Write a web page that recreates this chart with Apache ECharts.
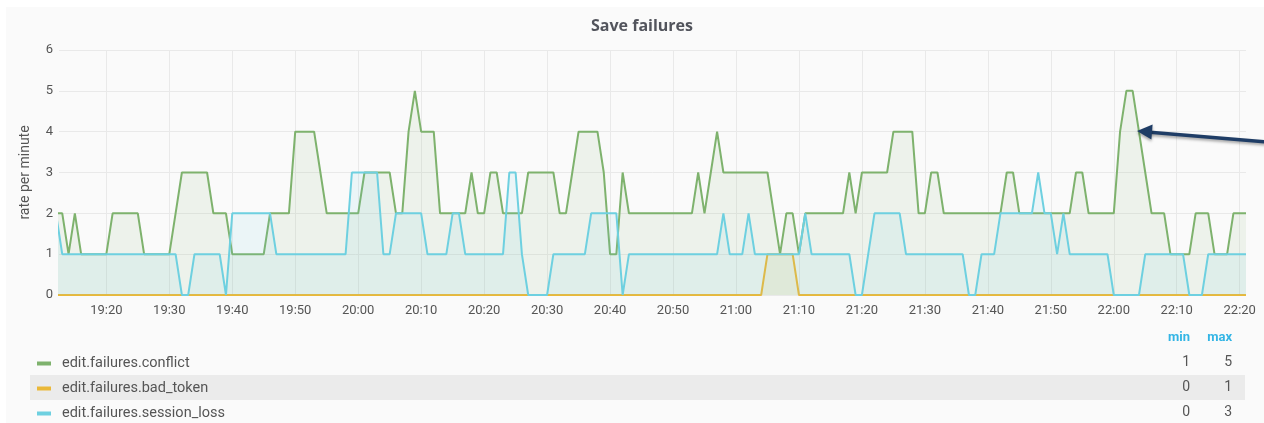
<!DOCTYPE html>
<html><head><meta charset="utf-8">
<script src="https://cdn.jsdelivr.net/npm/echarts@6/dist/echarts.min.js"></script>
<style>html,body{margin:0;padding:0;background:#fff}#c{width:1264px;height:423px}</style>
</head><body><div id="c"></div>
<script>
// ---- data ----
const chartTitle = 'Save failures';
const yAxisName = 'rate per minute';
const seriesNames = ['edit.failures.conflict', 'edit.failures.bad_token', 'edit.failures.session_loss'];
const seriesColors = ['#7eb26d', '#eab839', '#6ed0e0'];
const firstSample = [19, 12];      // first sample (just left of the visible window)
const sampleStepMinutes = 1;
const viewStart = [19, 12, 29];    // visible time window
const viewEnd = [22, 21, 0];
const xTickLabels = ['19:20', '19:30', '19:40', '19:50', '20:00', '20:10', '20:20', '20:30', '20:40',
  '20:50', '21:00', '21:10', '21:20', '21:30', '21:40', '21:50', '22:00', '22:10', '22:20'];
const yMin = 0, yMax = 6, yStep = 1;
const legendHeaders = ['min', 'max'];

const conflict = [
  2,2,1,2,1,1,1,1,1,2,
  2,2,2,2,1,1,1,1,1,2,
  3,3,3,3,3,2,2,2,1,1,
  1,1,1,1,2,2,2,2,4,4,
  4,4,3,2,2,2,2,2,2,3,
  3,3,3,3,2,2,4,5,4,4,
  4,2,2,2,2,2,3,2,2,3,
  3,2,2,2,2,3,3,3,3,3,
  2,2,3,4,4,4,4,3,1,1,
  3,2,2,2,2,2,2,2,2,2,
  2,2,3,2,3,4,3,3,3,3,
  3,3,3,3,2,1,2,2,1,2,
  2,2,2,2,2,2,3,2,3,3,
  3,3,3,4,4,4,4,2,2,3,
  3,2,2,2,2,2,2,2,2,2,
  2,3,3,2,2,2,2,2,2,2,
  2,2,3,3,2,2,2,2,2,4,
  5,5,4,3,2,2,2,1,1,1,
  1,2,2,2,1,1,1,2,2,2
];
const badToken = [
  0,0,0,0,0,0,0,0,0,0,
  0,0,0,0,0,0,0,0,0,0,
  0,0,0,0,0,0,0,0,0,0,
  0,0,0,0,0,0,0,0,0,0,
  0,0,0,0,0,0,0,0,0,0,
  0,0,0,0,0,0,0,0,0,0,
  0,0,0,0,0,0,0,0,0,0,
  0,0,0,0,0,0,0,0,0,0,
  0,0,0,0,0,0,0,0,0,0,
  0,0,0,0,0,0,0,0,0,0,
  0,0,0,0,0,0,0,0,0,0,
  0,0,0,1,1,1,1,1,0,0,
  0,0,0,0,0,0,0,0,0,0,
  0,0,0,0,0,0,0,0,0,0,
  0,0,0,0,0,0,0,0,0,0,
  0,0,0,0,0,0,0,0,0,0,
  0,0,0,0,0,0,0,0,0,0,
  0,0,0,0,0,0,0,0,0,0,
  0,0,0,0,0,0,0,0,0,0
];
const sessionLoss = [
  2,1,1,1,1,1,1,1,1,1,
  1,1,1,1,1,1,1,1,1,1,
  0,0,1,1,1,1,1,0,2,2,
  2,2,2,2,2,1,1,1,1,1,
  1,1,1,1,1,1,1,3,3,3,
  3,3,1,1,2,2,2,2,2,1,
  1,1,1,2,2,1,1,1,1,1,
  1,1,3,3,1,0,0,0,0,1,
  1,1,1,1,1,2,2,2,2,2,
  0,1,1,1,1,1,1,1,1,1,
  1,1,1,1,1,1,2,1,1,1,
  2,1,1,1,1,1,1,1,1,2,
  1,1,1,1,1,1,1,0,0,1,
  2,2,2,2,2,1,1,1,1,1,
  1,1,1,1,1,0,0,1,1,1,
  2,2,2,2,2,2,3,2,2,1,
  2,1,1,1,1,1,1,1,0,0,
  0,0,0,1,1,1,1,1,1,1,
  0,0,0,1,1,1,1,1,1,1
];
const seriesValues = [conflict, badToken, sessionLoss];

// ---- build ----
const base = [2017, 4, 1];
const t = (hm) => new Date(base[0], base[1], base[2], hm[0], hm[1], hm[2] || 0).getTime();
const t0 = t(firstSample);
const times = conflict.map((_, i) => t0 + i * sampleStepMinutes * 60000);
const tickValues = xTickLabels.map((s) => t(s.split(':').map(Number)));
const pad = (n) => (n < 10 ? '0' : '') + n;
const FONT = 'Roboto, "Noto Sans", sans-serif';
const TXT = '#555';

const chart = echarts.init(document.getElementById('c'), null, {renderer: 'canvas'});

const series = seriesNames.map((name, s) => ({
  name: name,
  type: 'line',
  data: seriesValues[s].map((v, i) => [times[i], v]),
  showSymbol: false,
  symbol: 'none',
  clip: true,
  lineStyle: {width: 2, color: seriesColors[s]},
  itemStyle: {color: seriesColors[s]},
  areaStyle: {color: seriesColors[s], opacity: 0.1},
  emphasis: {disabled: true},
  z: 2 + s
}));

// legend table extras (min/max column)
const colMinX = 1190, colMaxX = 1232;
const rowY = [362, 387, 412];
const graphics = [
  {type: 'rect', z: -20, silent: true, shape: {x: 6, y: 7, width: 1270, height: 430}, style: {fill: '#fafafa'}},
  {type: 'rect', z: -10, silent: true, shape: {x: 30, y: 375, width: 1215, height: 25}, style: {fill: '#ebebeb'}},
  {type: 'text', z: 10, style: {text: legendHeaders[0], x: colMinX, y: 338, align: 'right', verticalAlign: 'middle', fill: '#33b5e5', font: 'bold 13px ' + FONT}},
  {type: 'text', z: 10, style: {text: legendHeaders[1], x: colMaxX, y: 338, align: 'right', verticalAlign: 'middle', fill: '#33b5e5', font: 'bold 13px ' + FONT}}
];
seriesValues.forEach((vals, s) => {
  graphics.push({type: 'text', z: 10, style: {text: String(Math.min(...vals)), x: colMinX, y: rowY[s], align: 'right', verticalAlign: 'middle', fill: TXT, font: '14px ' + FONT}});
  graphics.push({type: 'text', z: 10, style: {text: String(Math.max(...vals)), x: colMaxX, y: rowY[s], align: 'right', verticalAlign: 'middle', fill: TXT, font: '14px ' + FONT}});
});
// annotation arrow
graphics.push({type: 'line', z: 100, silent: true, shape: {x1: 1266, y1: 141.8, x2: 1150, y2: 132.2},
  style: {stroke: '#1f3d66', lineWidth: 3.5, shadowBlur: 3, shadowColor: 'rgba(0,0,0,0.35)', shadowOffsetY: 2}});
graphics.push({type: 'polygon', z: 101, silent: true, shape: {points: [[1137, 131], [1152.6, 124.6], [1151.4, 139.6]]},
  style: {fill: '#1f3d66', shadowBlur: 3, shadowColor: 'rgba(0,0,0,0.35)', shadowOffsetY: 2}});

chart.setOption({
  animation: false,
  backgroundColor: '#ffffff',
  textStyle: {fontFamily: FONT},
  title: {text: chartTitle, left: 642, textAlign: 'center', top: 18, padding: 0,
    textStyle: {fontSize: 16, fontWeight: 'bold', color: '#52545c', fontFamily: '"Open Sans", Roboto, sans-serif'}},
  grid: {left: 59, right: 18, top: 50, bottom: 128, containLabel: false},
  legend: {
    data: seriesNames, orient: 'vertical', left: 37, top: 356, height: 80, padding: 0, icon: 'rect',
    itemWidth: 14, itemHeight: 4, itemGap: 10, selectedMode: false,
    textStyle: {fontSize: 14.5, color: TXT, lineHeight: 15, fontFamily: FONT, padding: [0, 0, 0, 6]}
  },
  xAxis: {
    type: 'value', min: t(viewStart), max: t(viewEnd),
    axisLine: {show: false},
    axisTick: {show: false, customValues: tickValues},
    splitLine: {show: true, lineStyle: {color: '#e9e9e9', width: 1}},
    axisLabel: {color: TXT, fontSize: 13, margin: 9, fontFamily: FONT, customValues: tickValues,
      showMinLabel: true, showMaxLabel: true,
      formatter: (v) => { const d = new Date(v); return pad(d.getHours()) + ':' + pad(d.getMinutes()); }}
  },
  yAxis: {
    type: 'value', min: yMin, max: yMax, interval: yStep,
    name: yAxisName, nameLocation: 'middle', nameGap: 27, nameRotate: 90,
    nameTextStyle: {color: TXT, fontSize: 14, fontFamily: FONT},
    axisLine: {show: false}, axisTick: {show: false},
    splitLine: {show: true, lineStyle: {color: '#e9e9e9', width: 1}},
    axisLabel: {color: TXT, fontSize: 13, margin: 6, fontFamily: FONT}
  },
  graphic: graphics,
  series: series
});
</script>
</body></html>
